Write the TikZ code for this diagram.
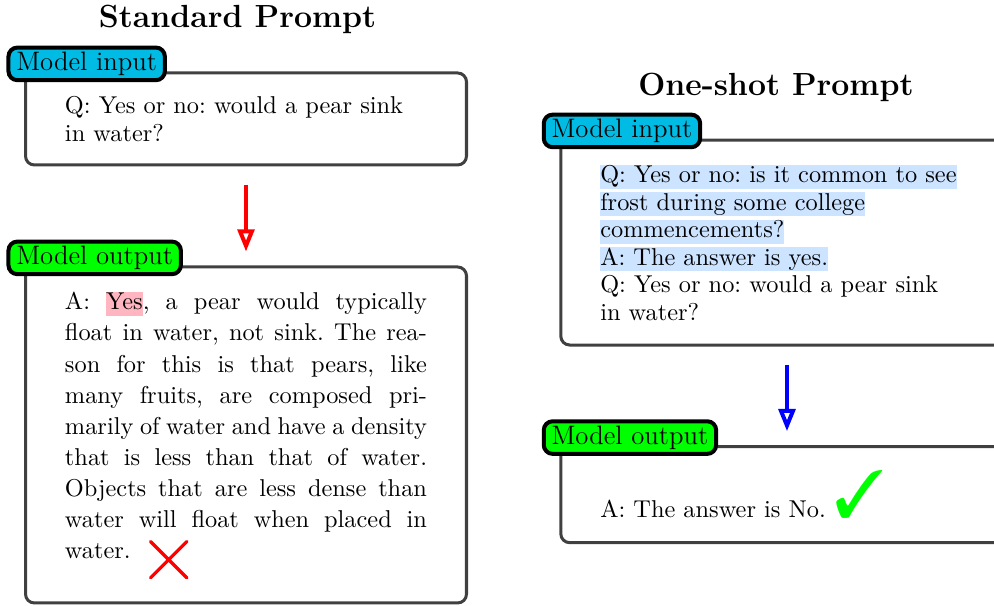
\documentclass[11pt,tikz,border=0pt]{standalone}
\usepackage{pifont}
\usetikzlibrary{arrows.meta,shapes.misc}

\definecolor{lblcyan}{RGB}{0,188,228}
\definecolor{hlblue}{RGB}{204,228,255}
\definecolor{hlpink}{RGB}{255,182,193}
\setlength{\fboxsep}{0pt}
\newcommand{\hlb}[1]{\colorbox{hlblue}{\vphantom{(}#1}}
\newcommand{\hlp}[1]{\colorbox{hlpink}{\vphantom{(}#1}}
\frenchspacing

\begin{document}
\begin{tikzpicture}[
	box/.style={draw=black!75,line width=1.35pt,rounded corners=4pt,inner xsep=0.624cm,inner ysep=0pt,align=left},
	tag/.style={draw=black,line width=1.8pt,rounded corners=4pt,inner xsep=3.5pt,inner ysep=2pt,font=\large,anchor=west},
	title/.style={font=\Large\bfseries,anchor=base},
	flow/.style={line width=1.8pt,-{Triangle[open,length=10pt,width=7.5pt]},shorten <=0.285cm,shorten >=0.22cm}
]
	\useasboundingbox (0,0) rectangle (15.706,9.575);
	% standard prompt
	\node[title] (ttl1) at (3.752,9.143) {Standard Prompt};
	\node[box,text width=5.72cm,minimum height=1.454cm,font=\fontsize{10.95}{12.45}\selectfont] (in1) at (3.887,7.695) {Q: Yes or no: would a pear sink in water?};
	\node[box,align=justify,text width=5.72cm,minimum height=5.309cm,font=\fontsize{10.95}{13.96}\selectfont] (out1) at (3.887,2.702) {A: \hlp{Yes}, a pear would typically\linebreak float in water, not sink. The rea-\linebreak son for this is that pears, like\linebreak many fruits, are composed pri-\linebreak marily of water and have a density\linebreak that is less than that of water.\linebreak Objects that are less dense than\linebreak water will float when placed in\linebreak water.\rule[-9pt]{0pt}{9pt}};
	\node[cross out,draw=red,line width=1.5pt,line cap=round,minimum size=0.52cm,inner sep=0pt] (wrong) at (2.666,0.732) {};
	\node[tag,fill=lblcyan] (tin1) at ([xshift=-0.277cm,yshift=0.12cm]in1.north west) {Model input};
	\node[tag,fill=green] (tout1) at ([xshift=-0.277cm,yshift=0.12cm]out1.north west) {Model output};
	\draw[flow,red] (in1) -- (out1);
	% one-shot prompt
	\node[title] (ttl2) at (12.26,8.069) {One-shot Prompt};
	\node[box,text width=5.90cm,minimum height=3.239cm,font=\fontsize{10.95}{12.35}\selectfont] (in2) at (12.435,5.743) {\hlb{Q: Yes or no: is it common to see}\\\hlb{frost during some college}\\\hlb{commencements?}\\\hlb{A: The answer is yes.}\\Q: Yes or no: would a pear sink\\in water?};
	\node[box,text width=5.90cm,minimum height=1.517cm,font=\fontsize{10.95}{12.35}\selectfont] (out2) at (12.435,1.759) {A: The answer is No. {\color{green}\fontsize{30}{30}\selectfont\ding{51}}};
	\node[tag,fill=lblcyan] (tin2) at ([xshift=-0.277cm,yshift=0.12cm]in2.north west) {Model input};
	\node[tag,fill=green] (tout2) at ([xshift=-0.277cm,yshift=0.12cm]out2.north west) {Model output};
	\draw[flow,blue] (in2) -- (out2);
\end{tikzpicture}
\end{document}
